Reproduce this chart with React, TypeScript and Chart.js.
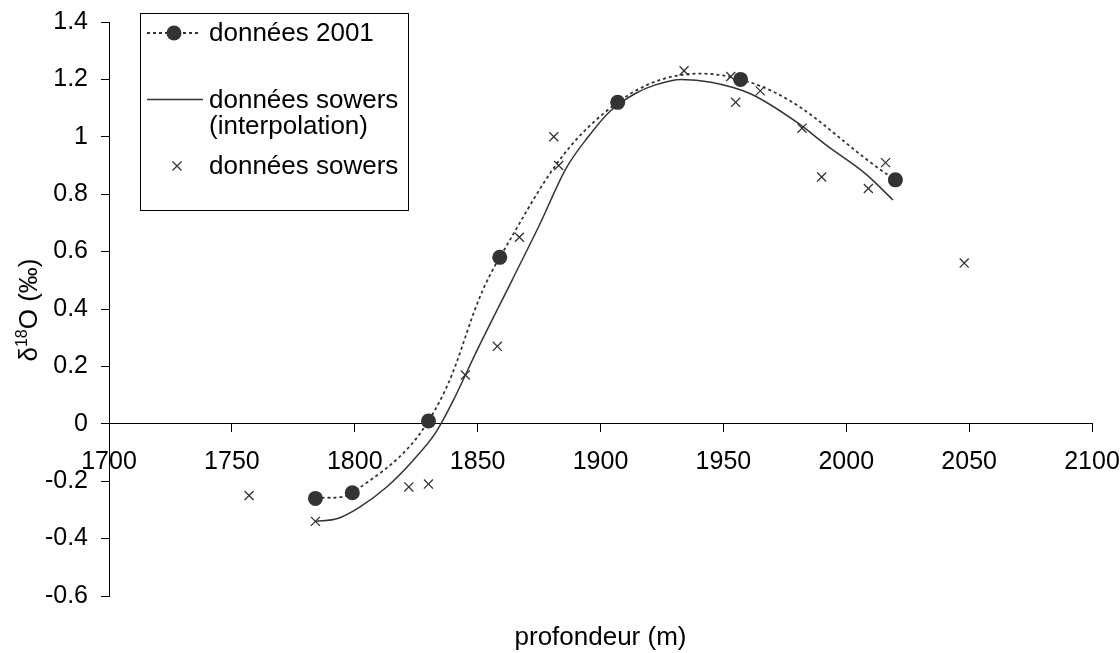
import React, { useEffect, useRef } from 'react';
import { Chart, registerables } from 'chart.js';

Chart.register(...registerables);

// données 2001 (circles + dotted smoothed line)
const depth2001 = [1784, 1799, 1830, 1859, 1907, 1957, 2020];
const d18O2001 = [-0.26, -0.24, 0.01, 0.58, 1.12, 1.2, 0.85];

// données sowers (interpolation) – solid line
const depthInterp = [1784, 1793, 1802, 1813, 1824, 1833, 1840, 1850, 1864, 1875, 1886, 1895, 1904, 1914, 1922, 1933, 1945, 1961, 1980, 1992, 2008, 2019];
const d18OInterp = [-0.34, -0.33, -0.29, -0.22, -0.125, -0.03, 0.08, 0.26, 0.5, 0.69, 0.89, 1.0, 1.09, 1.15, 1.18, 1.2, 1.19, 1.15, 1.05, 0.97, 0.87, 0.78];

// données sowers – crosses
const depthSowers = [1757, 1784, 1822, 1830, 1845, 1858, 1867, 1881, 1883, 1934, 1953, 1955, 1965, 1982, 1990, 2009, 2016, 2048];
const d18OSowers = [-0.25, -0.34, -0.22, -0.21, 0.17, 0.27, 0.65, 1.0, 0.9, 1.23, 1.21, 1.12, 1.16, 1.03, 0.86, 0.82, 0.91, 0.56];

const xMin = 1700;
const xMax = 2100;
const xStep = 50;
const yMin = -0.6;
const yMax = 1.4;
const yStep = 0.2;

const legendLabels = ['données 2001', 'données sowers', '(interpolation)', 'données sowers'];
const xTitle = 'profondeur (m)';

const FONT = '"Liberation Sans", Arial, sans-serif';
const INK = '#333333';

const toPts = (xs: number[], ys: number[]) => xs.map((x, i) => ({ x, y: ys[i] }));

const overlayPlugin = {
  id: 'overlay',
  afterDraw(chart: any) {
    const ctx = chart.ctx as CanvasRenderingContext2D;
    const area = chart.chartArea;
    ctx.save();
    // x title
    ctx.fillStyle = '#000';
    ctx.font = `26px ${FONT}`;
    ctx.textAlign = 'center';
    ctx.textBaseline = 'middle';
    ctx.fillText(xTitle, (area.left + area.right) / 2, 638);

    // y title with superscript
    ctx.save();
    ctx.translate(29, 310);
    ctx.rotate(-Math.PI / 2);
    ctx.textBaseline = 'alphabetic';
    ctx.textAlign = 'left';
    const big = `26px ${FONT}`;
    const small = `16px ${FONT}`;
    ctx.font = big;
    const w1 = ctx.measureText('δ').width;
    const w3 = ctx.measureText('O (‰)').width;
    ctx.font = small;
    const w2 = ctx.measureText('18').width;
    const total = w1 + w2 + w3;
    let x = -total / 2;
    const base = 8;
    ctx.font = big;
    ctx.fillText('δ', x, base);
    x += w1;
    ctx.font = small;
    ctx.fillText('18', x, base - 10);
    x += w2;
    ctx.font = big;
    ctx.fillText('O (‰)', x, base);
    ctx.restore();

    // legend box
    const bx = 140, by = 13, bw = 268, bh = 197;
    ctx.fillStyle = '#fff';
    ctx.fillRect(bx, by, bw, bh);
    ctx.strokeStyle = '#000';
    ctx.lineWidth = 1;
    ctx.strokeRect(bx + 0.5, by + 0.5, bw, bh);

    // item 1: dotted line with circle
    ctx.strokeStyle = INK;
    ctx.lineWidth = 1.8;
    ctx.setLineDash([3, 3]);
    ctx.beginPath();
    ctx.moveTo(147, 33);
    ctx.lineTo(200, 33);
    ctx.stroke();
    ctx.setLineDash([]);
    ctx.fillStyle = INK;
    ctx.beginPath();
    ctx.arc(174, 33, 7.5, 0, Math.PI * 2);
    ctx.fill();

    // item 2: solid line
    ctx.lineWidth = 1.5;
    ctx.beginPath();
    ctx.moveTo(147, 99.5);
    ctx.lineTo(203, 99.5);
    ctx.stroke();

    // item 3: cross
    ctx.lineWidth = 1.3;
    const cx = 177, cy = 166, r = 4.5;
    ctx.beginPath();
    ctx.moveTo(cx - r, cy - r);
    ctx.lineTo(cx + r, cy + r);
    ctx.moveTo(cx + r, cy - r);
    ctx.lineTo(cx - r, cy + r);
    ctx.stroke();

    ctx.fillStyle = '#000';
    ctx.font = `26px ${FONT}`;
    ctx.textAlign = 'left';
    ctx.textBaseline = 'middle';
    ctx.fillText(legendLabels[0], 209, 34);
    ctx.fillText(legendLabels[1], 209, 101);
    ctx.fillText(legendLabels[2], 209, 127);
    ctx.fillText(legendLabels[3], 209, 167);
    ctx.restore();
  },
};

export default function App() {
  const ref = useRef<HTMLCanvasElement | null>(null);
  useEffect(() => {
    if (!ref.current) return;
    const tickFont = { family: FONT, size: 25 };
    const chart = new Chart(ref.current, {
      type: 'scatter',
      data: {
        datasets: [
          {
            label: 'données sowers',
            data: toPts(depthSowers, d18OSowers),
            showLine: false,
            pointStyle: 'crossRot',
            pointRadius: 6.4,
            borderColor: INK,
            backgroundColor: INK,
            borderWidth: 1.3,
            order: 1,
          },
          {
            label: 'données 2001',
            data: toPts(depth2001, d18O2001),
            showLine: true,
            tension: 0.4,
            borderColor: INK,
            borderWidth: 1.8,
            borderDash: [3, 3],
            pointStyle: 'circle',
            pointRadius: 7.5,
            pointBackgroundColor: INK,
            pointBorderColor: INK,
            pointBorderWidth: 0,
            order: 2,
          },
          {
            label: 'données sowers (interpolation)',
            data: toPts(depthInterp, d18OInterp),
            showLine: true,
            cubicInterpolationMode: 'monotone',
            borderColor: INK,
            borderWidth: 1.5,
            pointRadius: 0,
            order: 3,
          },
        ],
      },
      options: {
        animation: false,
        responsive: false,
        devicePixelRatio: 1,
        layout: { padding: { left: 0, top: 22, right: 28, bottom: 57 } },
        plugins: { legend: { display: false }, tooltip: { enabled: false } },
        scales: {
          x: {
            type: 'linear',
            min: xMin,
            max: xMax,
            position: { y: 0 } as any,
            afterFit: (s: any) => {
              s.height = 0;
              s.paddingLeft = 0;
              s.paddingRight = 0;
              s.paddingTop = 0;
              s.paddingBottom = 0;
            },
            ticks: {
              stepSize: xStep,
              autoSkip: false,
              maxRotation: 0,
              minRotation: 0,
              padding: 15,
              color: '#000',
              font: tickFont,
              callback: (v: any) => String(v),
            },
            grid: { drawOnChartArea: false, drawTicks: true, tickLength: 8, color: '#000' },
            border: { display: true, color: '#000', width: 1 },
          },
          y: {
            type: 'linear',
            min: yMin,
            max: yMax,
            afterFit: (s: any) => {
              s.width = 109;
              s.paddingTop = 0;
              s.paddingBottom = 0;
            },
            ticks: {
              stepSize: yStep,
              padding: 13,
              color: '#000',
              font: tickFont,
              callback: (v: any) => String(Number(Number(v).toFixed(1))),
            },
            grid: { drawOnChartArea: false, drawTicks: true, tickLength: 8, color: '#000' },
            border: { display: true, color: '#000', width: 1 },
          },
        },
      },
      plugins: [overlayPlugin],
    });
    return () => chart.destroy();
  }, []);
  return (
    <div style={{ position: 'fixed', left: 0, top: 0, width: 1120, height: 653, background: '#fff' }}>
      <canvas ref={ref} width={1120} height={653} />
    </div>
  );
}
